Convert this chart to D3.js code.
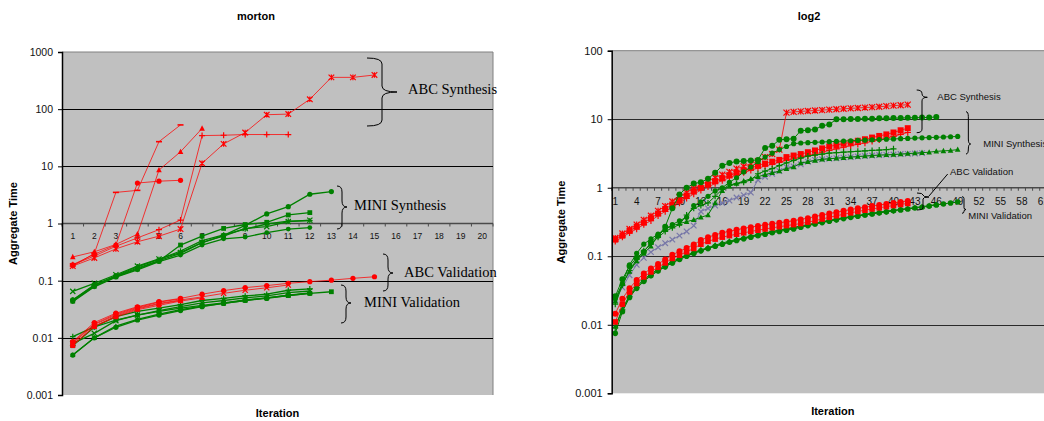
<!DOCTYPE html>
<html>
<head>
<meta charset="utf-8">
<script src="https://cdn.jsdelivr.net/npm/d3@7"></script>
<style>
  body { margin: 0; background: #fff; }
  svg { display: block; font-family: Arial, "Liberation Sans", sans-serif; }
</style>
</head>
<body>
<script>
// ---------- data: morton (left) ----------
var mortonCats = [1,2,3,4,5,6,7,8,9,10,11,12,13,14,15,16,17,18,19,20];
var mortonYTicks = [0.001, 0.01, 0.1, 1, 10, 100, 1000];

// ABC synthesis (red)
var mAbcSyn1 = [0.18, 0.25, 0.36, 0.48, 0.6, 0.8, 11.3, 24.7, 39, 80, 82, 149, 360, 360, 396];
var mAbcSyn2 = [0.19, 0.27, 0.4, 0.56, 0.78, 1.15, 34.5, 35, 36, 36, 36];
var mAbcSyn3 = [0.26, 0.32, 0.43, 0.65, 8.6, 18, 46];
var mAbcSyn4 = [0.19, 0.29, 0.42, 5.1, 5.5, 5.7];
var mAbcSyn5 = [0.18, 0.3, 3.5, 3.8, 27, 53];
// ABC validation (red)
var mAbcVal1 = [0.0086, 0.0185, 0.027, 0.035, 0.043, 0.049, 0.058, 0.067, 0.0755, 0.082, 0.09, 0.096, 0.102, 0.11, 0.117];
var mAbcVal2 = [0.008, 0.017, 0.025, 0.033, 0.04, 0.046, 0.052, 0.06, 0.068, 0.075, 0.084];
var mAbcVal3 = [0.0075, 0.016, 0.023, 0.031, 0.037, 0.044, 0.05];
var mAbcVal4 = [0.0083, 0.0175, 0.026, 0.034, 0.042, 0.048];
var mAbcVal5 = [0.0073, 0.0157, 0.024, 0.032, 0.039, 0.045];
// MINI synthesis (green)
var mMiniSyn1 = [0.046, 0.085, 0.12, 0.165, 0.225, 0.3, 0.46, 0.62, 0.93, 1.47, 1.97, 3.25, 3.62];
var mMiniSyn2 = [0.044, 0.08, 0.117, 0.16, 0.22, 0.42, 0.6, 0.82, 0.96, 1.05, 1.41, 1.55];
var mMiniSyn3 = [0.065, 0.09, 0.127, 0.18, 0.24, 0.31, 0.47, 0.6, 0.82, 0.88, 1.08, 1.14];
var mMiniSyn4 = [0.046, 0.082, 0.122, 0.175, 0.235, 0.33, 0.5, 0.63, 0.8, 0.98, 1.1, 1.12];
var mMiniSyn5 = [0.043, 0.078, 0.115, 0.155, 0.215, 0.28, 0.42, 0.54, 0.58, 0.69, 0.8, 0.85];
// MINI validation (green)
var mMiniVal1 = [0.0073, 0.0155, 0.0205, 0.025, 0.029, 0.033, 0.037, 0.041, 0.046, 0.05, 0.055, 0.06, 0.064];
var mMiniVal2 = [0.005, 0.01, 0.0153, 0.0205, 0.025, 0.03, 0.035, 0.04, 0.045, 0.049, 0.055, 0.06];
var mMiniVal3 = [0.0105, 0.0155, 0.0235, 0.029, 0.033, 0.038, 0.045, 0.049, 0.054, 0.058, 0.068, 0.072];
var mMiniVal4 = [0.008, 0.012, 0.02, 0.025, 0.03, 0.035, 0.041, 0.045, 0.05, 0.054, 0.062, 0.066];
var mMiniVal5 = [0.005, 0.01, 0.016, 0.021, 0.026, 0.031, 0.036, 0.04, 0.045, 0.05, 0.056, 0.061];

// ---------- data: log2 (right) ----------
var log2Cats = [1,2,3,4,5,6,7,8,9,10,11,12,13,14,15,16,17,18,19,20,21,22,23,24,25,26,27,28,29,30,
                31,32,33,34,35,36,37,38,39,40,41,42,43,44,45,46,47,48,49,50,51,52,53,54,55,56,57,58,59,60,61,62];
var log2XLabels = [1,4,7,10,13,16,19,22,25,28,31,34,37,40,43,46,49,52,55,58,61];
var log2YTicks = [0.001, 0.01, 0.1, 1, 10, 100];

var lRedSynSq = [0.175, 0.2, 0.235, 0.27, 0.31, 0.36, 0.42, 0.49, 0.57, 0.66, 0.77, 0.89, 1.0, 1.12, 1.25, 1.38, 1.52, 1.66, 1.8, 1.95,
                 2.1, 2.25, 2.4, 2.55, 2.8, 2.95, 3.1, 3.3, 3.5, 3.75, 4.0, 4.2, 4.4, 4.6, 4.85, 5.1, 5.4, 5.7, 6.0, 6.4, 6.9, 7.4];
var lRedSynPlus = [0.165, 0.19, 0.22, 0.25, 0.29, 0.33, 0.39, 0.45, 0.52, 0.6, 0.7, 0.81, 0.92, 1.03, 1.15, 1.27, 1.4, 1.53, 1.66, 1.8,
                   1.93, 2.07, 2.2, 2.35, 2.5, 2.65, 2.8, 2.95, 3.1, 3.3, 3.5, 3.7, 3.9, 4.1, 4.3, 4.5, 4.75, 5.0, 5.3, 5.6, 6.0, 6.4];
var lRedSynStar = [0.185, 0.215, 0.25, 0.29, 0.34, 0.39, 0.46, 0.54, 0.63, 0.73, 0.85, 0.98, 1.1, 1.25, 1.4, 1.55, 1.7, 1.9, 2.05, 2.25,
                   2.45, 2.8, 3.1, 3.6, 12.5, 12.8, 13.0, 13.2, 13.4, 13.6, 13.8, 14.0, 14.2, 14.4, 14.6, 14.8, 15.0, 15.2, 15.5, 15.8, 16.0, 16.3];
var lRedValCirc = [0.0145, 0.024, 0.034, 0.045, 0.056, 0.066, 0.077, 0.09, 0.105, 0.118, 0.132, 0.148, 0.172, 0.19, 0.205, 0.22, 0.232, 0.243, 0.255, 0.266,
                   0.277, 0.288, 0.298, 0.308, 0.318, 0.33, 0.345, 0.36, 0.38, 0.4, 0.42, 0.44, 0.46, 0.48, 0.5, 0.52, 0.54, 0.56, 0.58, 0.6, 0.62, 0.64];
var lRedValSq = [0.011, 0.02, 0.03, 0.04, 0.05, 0.059, 0.069, 0.08, 0.093, 0.104, 0.116, 0.13, 0.15, 0.165, 0.178, 0.19, 0.2, 0.21, 0.22, 0.23,
                 0.24, 0.25, 0.26, 0.27, 0.28, 0.29, 0.3, 0.315, 0.33, 0.35, 0.37, 0.39, 0.41, 0.43, 0.45, 0.47, 0.49, 0.51, 0.53, 0.55, 0.57, 0.59];

var lGreenSyn1 = [0.026, 0.046, 0.072, 0.095, 0.115, 0.16, 0.2, 0.27, 0.5, 0.8, 1.0, 1.15, 1.2, 1.35, 1.65, 2.1, 2.3, 2.42, 2.45, 2.5,
                  2.55, 3.8, 4.1, 5.0, 5.1, 5.2, 6.8, 6.9, 7.1, 8.0, 8.4, 10.0, 10.0, 10.1, 10.1, 10.2, 10.2, 10.3, 10.3, 10.4, 10.4, 10.5, 10.5, 10.6, 10.6, 10.8];
var lGreenSyn2 = [0.024, 0.04, 0.075, 0.11, 0.15, 0.18, 0.21, 0.25, 0.29, 0.33, 0.37, 0.55, 0.62, 0.75, 0.9, 1.0, 1.2, 1.4, 1.7, 2.0,
                  2.4, 2.8, 3.2, 3.6, 4.0, 4.4, 4.5, 4.55, 4.6, 4.65, 4.7, 4.75, 4.8, 4.85, 4.9, 4.95, 5.0, 5.05, 5.1, 5.15, 5.2, 5.25, 5.3, 5.35, 5.4, 5.45, 5.5, 5.55, 5.6];
var lGreenSyn3 = [0.022, 0.04, 0.06, 0.085, 0.11, 0.14, 0.2, 0.25, 0.28, 0.3, 0.32, 0.34, 0.37, 0.4, 0.6, 0.9, 1.05, 1.15, 1.25, 1.35,
                  1.45, 1.55, 1.65, 1.75, 1.9, 2.0, 2.3, 2.4, 2.5, 2.6, 2.65, 2.7, 2.75, 2.8, 2.85, 2.9, 2.95, 3.0, 3.02, 3.05, 3.1, 3.15, 3.2, 3.25, 3.3, 3.4, 3.45, 3.5, 3.6];
var lGreenSyn4 = [0.02, 0.038, 0.062, 0.09, 0.12, 0.15, 0.19, 0.23, 0.26, 0.29, 0.4, 0.5, 0.55, 0.6, 0.75, 0.95, 1.1, 1.15, 1.2, 1.3,
                  1.6, 1.75, 1.9, 2.1, 2.3, 2.5, 2.7, 2.9, 3.0, 3.1, 3.2, 3.25, 3.3, 3.35, 3.4, 3.45, 3.5, 3.55, 3.6, 3.7];
var lSlateSyn = [0.023, 0.035, 0.053, 0.075, 0.095, 0.115, 0.135, 0.155, 0.175, 0.2, 0.23, 0.28, 0.45, 0.5, 0.55, 0.6, 0.65, 0.72, 0.78, 0.85,
                 1.3, 1.45, 1.6, 1.75, 2.0, 2.05, 2.2, 2.4, 2.55, 2.6, 2.65, 2.7, 2.75, 2.8, 2.85, 2.9, 2.95, 3.0, 3.02, 3.05, 3.1, 3.12, 3.15, 3.2];

var lGreenValCirc = [0.0075, 0.0155, 0.025, 0.034, 0.043, 0.052, 0.061, 0.07, 0.08, 0.09, 0.1, 0.11, 0.12, 0.13, 0.14, 0.15, 0.16, 0.17, 0.18, 0.19,
                     0.2, 0.21, 0.22, 0.23, 0.24, 0.25, 0.265, 0.28, 0.295, 0.31, 0.325, 0.34, 0.355, 0.37, 0.385, 0.4, 0.415, 0.43, 0.445, 0.46,
                     0.475, 0.49, 0.505, 0.52, 0.54, 0.56, 0.58, 0.6, 0.62];
var lGreenValTri = [0.0095, 0.017, 0.027, 0.037, 0.046, 0.055, 0.065, 0.074, 0.084, 0.094, 0.104, 0.114, 0.124, 0.134, 0.145, 0.156, 0.166, 0.176, 0.186, 0.197,
                    0.208, 0.219, 0.23, 0.241, 0.252, 0.264, 0.277, 0.29, 0.305, 0.32, 0.335, 0.35, 0.365, 0.38, 0.395, 0.41, 0.425, 0.44, 0.455, 0.47,
                    0.485, 0.5, 0.515, 0.53, 0.55, 0.57];
var lGreenValPlus = [0.009, 0.0165, 0.026, 0.035, 0.044, 0.053, 0.062, 0.071, 0.081, 0.091, 0.101, 0.111, 0.121, 0.131, 0.141, 0.151, 0.161, 0.172, 0.183, 0.194,
                     0.205, 0.216, 0.227, 0.238, 0.249, 0.26, 0.272, 0.285, 0.3, 0.315, 0.33, 0.345, 0.36, 0.375, 0.39, 0.405, 0.42, 0.435, 0.45, 0.465];

var RED = "#ff0000", GREEN = "#008000", SLATE = "#7878a8";

var svg = d3.select("body").append("svg")
    .attr("width", 1044)
    .attr("height", 421);

// marker shapes, roughly like the Excel ones
function markerPath(type, s) {
  switch (type) {
    case "circle":   return d3.symbol(d3.symbolCircle, Math.PI * s * s)();
    case "square":   return "M" + (-s) + "," + (-s) + "h" + 2 * s + "v" + 2 * s + "h" + (-2 * s) + "Z";
    case "triangle": return "M0," + (-s * 1.1) + "L" + s + "," + s * 0.8 + "L" + (-s) + "," + s * 0.8 + "Z";
    case "diamond":  return "M0," + (-s) + "L" + s + ",0L0," + s + "L" + (-s) + ",0Z";
    case "x":        return "M" + (-s) + "," + (-s) + "L" + s + "," + s + "M" + (-s) + "," + s + "L" + s + "," + (-s);
    case "star":     return "M" + (-s) + "," + (-s) + "L" + s + "," + s + "M" + (-s) + "," + s + "L" + s + "," + (-s) + "M0," + (-s) + "L0," + s;
    case "plus":     return "M" + (-s) + ",0L" + s + ",0M0," + (-s) + "L0," + s;
    case "dash":     return "M" + (-s) + ",0L" + s + ",0";
  }
}
var strokeMarkers = { x: 1, star: 1, plus: 1, dash: 1 };

function brace(g, x0, yTop, yBot, xTip, yTip) {
  var xm = (x0 + xTip) / 2, r = Math.min(6, (yTip - yTop) / 2, (yBot - yTip) / 2);
  var p = "M" + x0 + "," + yTop +
          "Q" + xm + "," + yTop + " " + xm + "," + (yTop + r) +
          "L" + xm + "," + (yTip - r) +
          "Q" + xm + "," + yTip + " " + xTip + "," + yTip +
          "Q" + xm + "," + yTip + " " + xm + "," + (yTip + r) +
          "L" + xm + "," + (yBot - r) +
          "Q" + xm + "," + yBot + " " + x0 + "," + yBot;
  g.append("path").attr("d", p).attr("fill", "none").attr("stroke", "#000").attr("stroke-width", 1);
}

function drawChart(o) {
  var g = svg.append("g");
  var x = d3.scaleBand().domain(o.cats).range([o.left, o.right]);
  var y = d3.scaleLog().domain([o.yTicks[0], o.yTicks[o.yTicks.length - 1]]).range([o.bottom, o.top]);
  var bw = x.bandwidth();
  var cx = function(i) { return x(o.cats[i]) + bw / 2; };

  // plot area
  g.append("rect")
    .attr("x", o.left).attr("y", o.top)
    .attr("width", o.right - o.left).attr("height", o.bottom - o.top)
    .attr("fill", "#c0c0c0");
  g.append("path")
    .attr("d", "M" + o.left + "," + o.top + "H" + o.right + "V" + o.bottom)
    .attr("fill", "none").attr("stroke", "#808080").attr("stroke-width", 1);

  // major gridlines
  g.selectAll(".grid")
    .data(o.yTicks.filter(function(d, i) { return i > 0 && i < o.yTicks.length - 1 && d !== 1; }))
    .enter().append("line")
    .attr("x1", o.left).attr("x2", o.right)
    .attr("y1", function(d) { return Math.round(y(d)) + 0.5; })
    .attr("y2", function(d) { return Math.round(y(d)) + 0.5; })
    .attr("stroke", o.gridColor).attr("stroke-width", 1);

  // category axis crossing at 1
  var y1 = y(1);
  g.append("line")
    .attr("x1", o.left).attr("x2", o.right).attr("y1", y1).attr("y2", y1)
    .attr("stroke", "#4a4a4a").attr("stroke-width", 1.6);
  var bounds = o.cats.map(function(c) { return x(c); }).concat([o.right]);
  g.selectAll(".xtick").data(bounds).enter().append("line")
    .attr("x1", function(d) { return d; }).attr("x2", function(d) { return d; })
    .attr("y1", y1).attr("y2", y1 + o.xTickLen)
    .attr("stroke", "#4a4a4a").attr("stroke-width", 1);
  var xAxis = g.append("g")
    .attr("transform", "translate(0," + y1 + ")")
    .call(d3.axisBottom(x).tickValues(o.xLabels).tickSize(0).tickPadding(o.xPad));
  xAxis.select(".domain").remove();
  xAxis.selectAll("text").attr("font-size", o.xFont).attr("fill", "#111")
    .attr("font-family", "Arial, 'Liberation Sans', sans-serif");

  // series
  var line = d3.line()
    .x(function(d, i) { return cx(i); })
    .y(function(d) { return y(d); });
  o.series.forEach(function(s) {
    g.append("path").datum(s.values)
      .attr("d", line)
      .attr("fill", "none")
      .attr("stroke", s.color)
      .attr("stroke-width", s.width)
      .attr("stroke-opacity", s.opacity || 1);
    var isStroke = strokeMarkers[s.marker];
    g.selectAll(null).data(s.values).enter().append("path")
      .attr("transform", function(d, i) { return "translate(" + cx(i) + "," + y(d) + ")"; })
      .attr("d", markerPath(s.marker, s.size))
      .attr("fill", isStroke ? "none" : s.color)
      .attr("stroke", isStroke ? s.color : "none")
      .attr("stroke-width", s.marker === "dash" ? 1.6 : 1.2);
  });

  // value axis
  var yAxis = g.append("g")
    .attr("transform", "translate(" + o.left + ",0)")
    .call(d3.axisLeft(y).tickValues(o.yTicks).tickFormat(function(d) { return String(d); })
          .tickSizeOuter(0).tickSize(4).tickPadding(5));
  yAxis.select(".domain").attr("stroke", "#000").attr("stroke-width", 1.5);
  yAxis.selectAll(".tick line").attr("stroke", "#000");
  yAxis.selectAll("text").attr("font-size", o.yFont).attr("fill", "#111")
    .attr("font-family", "Arial, 'Liberation Sans', sans-serif");

  // titles
  g.append("text").attr("x", o.titleX).attr("y", 20).attr("text-anchor", "middle")
    .attr("font-size", 11).attr("font-weight", "bold").text(o.title);
  g.append("text").attr("x", (o.left + o.right) / 2).attr("y", o.bottom + 22).attr("text-anchor", "middle")
    .attr("font-size", 11).attr("font-weight", "bold").text("Iteration");
  g.append("text")
    .attr("transform", "translate(" + o.yTitleX + "," + (o.top + o.bottom) / 2 + ") rotate(-90)")
    .attr("text-anchor", "middle").attr("font-size", 11).attr("font-weight", "bold")
    .text("Aggregate Time");
  return g;
}

// ---------- left chart ----------
var gl = drawChart({
  title: "morton", titleX: 256, left: 62, right: 493, top: 52, bottom: 395, yTitleX: 17,
  cats: mortonCats, xLabels: mortonCats, yTicks: mortonYTicks,
  xFont: 8.5, yFont: 10.5, xPad: 9.5, xTickLen: 3, gridColor: "#000",
  series: [
    { values: mMiniSyn1, color: GREEN, marker: "circle", size: 2.6, width: 1.3 },
    { values: mMiniSyn2, color: GREEN, marker: "square", size: 2.4, width: 1.3 },
    { values: mMiniSyn3, color: GREEN, marker: "x", size: 2.6, width: 1.3 },
    { values: mMiniSyn4, color: GREEN, marker: "plus", size: 2.8, width: 1.3 },
    { values: mMiniSyn5, color: GREEN, marker: "circle", size: 2.4, width: 1.3 },
    { values: mMiniVal1, color: GREEN, marker: "square", size: 2.4, width: 1.3 },
    { values: mMiniVal2, color: GREEN, marker: "circle", size: 2.6, width: 1.3 },
    { values: mMiniVal3, color: GREEN, marker: "plus", size: 2.8, width: 1.3 },
    { values: mMiniVal4, color: GREEN, marker: "x", size: 2.6, width: 1.3 },
    { values: mMiniVal5, color: GREEN, marker: "triangle", size: 2.6, width: 1.3 },
    { values: mAbcSyn1, color: RED, marker: "star", size: 2.8, width: 1, opacity: 0.75 },
    { values: mAbcSyn2, color: RED, marker: "plus", size: 3, width: 1, opacity: 0.75 },
    { values: mAbcSyn3, color: RED, marker: "triangle", size: 2.8, width: 1, opacity: 0.75 },
    { values: mAbcSyn4, color: RED, marker: "circle", size: 2.6, width: 1, opacity: 0.75 },
    { values: mAbcSyn5, color: RED, marker: "dash", size: 3, width: 1, opacity: 0.75 },
    { values: mAbcVal1, color: RED, marker: "circle", size: 2.6, width: 1, opacity: 0.75 },
    { values: mAbcVal2, color: RED, marker: "x", size: 2.6, width: 1, opacity: 0.75 },
    { values: mAbcVal3, color: RED, marker: "triangle", size: 2.6, width: 1, opacity: 0.75 },
    { values: mAbcVal4, color: RED, marker: "circle", size: 2.6, width: 1, opacity: 0.75 },
    { values: mAbcVal5, color: RED, marker: "square", size: 2.4, width: 1, opacity: 0.75 }
  ]
});

brace(gl, 367, 58, 126, 397, 92);
brace(gl, 337, 186, 229, 347, 207);
brace(gl, 383, 254, 291, 393, 273);
brace(gl, 341, 285, 323, 351, 303);
[["ABC Synthesis", 408, 89], ["MINI Synthesis", 354, 205], ["ABC Validation", 404, 272], ["MINI Validation", 364, 302]]
  .forEach(function(t) {
    gl.append("text").attr("x", t[1]).attr("y", t[2]).attr("dy", "0.35em")
      .style("font-family", "'Liberation Serif', 'Times New Roman', serif")
      .attr("font-size", 14.5).attr("fill", "#000").text(t[0]);
  });

// ---------- right chart ----------
var gr = drawChart({
  title: "log2", titleX: 809, left: 611.7, right: 1054, top: 50.7, bottom: 393.3, yTitleX: 565,
  cats: log2Cats, xLabels: log2XLabels, yTicks: log2YTicks,
  xFont: 10, yFont: 11, xPad: 10, xTickLen: 3, gridColor: "#2a2a2a",
  series: [
    { values: lGreenValCirc, color: GREEN, marker: "circle", size: 2.8, width: 1 },
    { values: lGreenValTri, color: GREEN, marker: "triangle", size: 2.8, width: 1 },
    { values: lGreenValPlus, color: GREEN, marker: "plus", size: 3, width: 1 },
    { values: lRedValSq, color: RED, marker: "square", size: 2.8, width: 1, opacity: 0.8 },
    { values: lRedValCirc, color: RED, marker: "circle", size: 3, width: 1, opacity: 0.8 },
    { values: lRedSynPlus, color: RED, marker: "plus", size: 3.2, width: 1, opacity: 0.8 },
    { values: lRedSynSq, color: RED, marker: "square", size: 3, width: 1, opacity: 0.8 },
    { values: lRedSynStar, color: RED, marker: "star", size: 3, width: 1, opacity: 0.8 },
    { values: lSlateSyn, color: SLATE, marker: "x", size: 2.8, width: 1 },
    { values: lGreenSyn4, color: GREEN, marker: "plus", size: 3, width: 1 },
    { values: lGreenSyn3, color: GREEN, marker: "triangle", size: 2.8, width: 1 },
    { values: lGreenSyn2, color: GREEN, marker: "circle", size: 2.6, width: 1 },
    { values: lGreenSyn1, color: GREEN, marker: "circle", size: 3, width: 1 }
  ]
});

brace(gr, 916.7, 90, 132.7, 927.3, 97.3);
brace(gr, 966, 111.7, 154, 970.7, 144);
brace(gr, 917, 193, 210, 929, 197);
brace(gr, 962, 196.7, 213.3, 966, 209.5);
gr.append("line").attr("x1", 947.7).attr("y1", 174).attr("x2", 929).attr("y2", 196)
  .attr("stroke", "#000").attr("stroke-width", 1);
[["ABC Synthesis", 937.3, 96.7], ["MINI Synthesis", 983.3, 144], ["ABC Validation", 950, 171.7], ["MINI Validation", 968.3, 215.7]]
  .forEach(function(t) {
    gr.append("text").attr("x", t[1]).attr("y", t[2]).attr("dy", "0.35em")
      .attr("font-size", 9.5).attr("fill", "#111").text(t[0]);
  });
</script>
</body>
</html>
